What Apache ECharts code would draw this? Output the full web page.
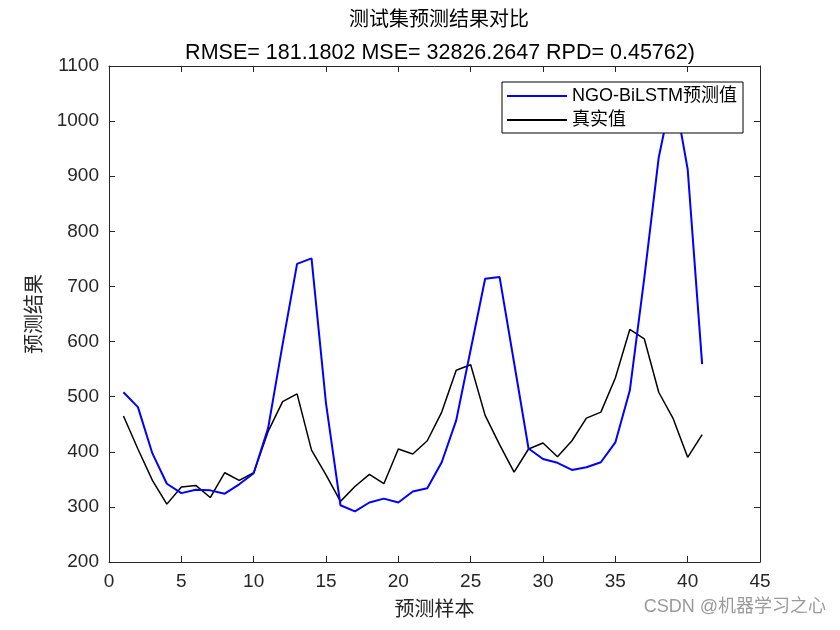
<!DOCTYPE html>
<html>
<head>
<meta charset="utf-8">
<script src="https://cdn.jsdelivr.net/npm/echarts@6/dist/echarts.min.js"></script>
<style>html,body{margin:0;padding:0;background:#fff}#c{width:840px;height:630px}</style>
</head>
<body>
<div id="c"></div>
<script>
const samples = [1,2,3,4,5,6,7,8,9,10,11,12,13,14,15,16,17,18,19,20,21,22,23,24,25,26,27,28,29,30,31,32,33,34,35,36,37,38,39,40,41];
const predicted = [508,481,397,342,325,331,330,324,341,361,443,595,741,751,488,303,292,308,315,308,328,334,381,457,585,714,717,562,406,387,380,367,372,381,417,511,715,934,1060,913,559];
const actual = [465,405,348,305,336,339,317,362,348,362,437,491,505,403,358,310,337,359,342,405,396,420,472,548,558,466,413,363,405,416,391,420,461,472,534,622,605,508,460,390,431];
const titleMain = '测试集预测结果对比';
const titleSub = 'RMSE= 181.1802 MSE= 32826.2647 RPD= 0.45762)';
const seriesNames = ['NGO-BiLSTM预测值', '真实值'];

const FONT = '"Liberation Sans", "Noto Sans CJK SC", sans-serif';
const chart = echarts.init(document.getElementById('c'));
const pairs = (ys) => samples.map((x, i) => [x, ys[i]]);
const axisCommon = {
  axisLine: {show: true, onZero: false, lineStyle: {color: '#262626', width: 1}},
  axisTick: {show: true, inside: true, length: 6, lineStyle: {color: '#262626'}},
  splitLine: {show: false}
};
const plain = (v) => String(v);
chart.setOption({
  animation: false,
  backgroundColor: '#fff',
  title: [
    {text: titleMain, left: 434, top: 5, textAlign: 'center',
     textStyle: {fontFamily: FONT, fontSize: 20, fontWeight: 'normal', color: '#000'}},
    {text: titleSub, left: 435, top: 37, textAlign: 'center',
     textStyle: {fontFamily: FONT, fontSize: 21.5, fontWeight: 'normal', color: '#000'}}
  ],
  grid: {left: 109, right: 80, top: 66, bottom: 68},
  legend: {
    orient: 'vertical', left: 502, top: 82,
    backgroundColor: '#fff', borderColor: '#000', borderWidth: 1, borderRadius: 0,
    padding: [3, 6, 2, 5], itemGap: 2,
    icon: 'rect', itemWidth: 60, itemHeight: 2,
    textStyle: {fontFamily: FONT, fontSize: 18, color: '#000', lineHeight: 22},
    data: seriesNames, z: 10
  },
  xAxis: [
    Object.assign({type: 'value', min: 0, max: 45, interval: 5, position: 'bottom',
      name: '预测样本', nameLocation: 'middle', nameGap: 38,
      nameTextStyle: {fontFamily: FONT, fontSize: 20, color: '#262626'},
      axisLabel: {fontFamily: FONT, fontSize: 19, color: '#262626', margin: 10, formatter: plain}}, axisCommon),
    Object.assign({type: 'value', min: 0, max: 45, interval: 5, position: 'top',
      axisLabel: {show: false}}, axisCommon)
  ],
  yAxis: [
    Object.assign({type: 'value', min: 200, max: 1100, interval: 100, position: 'left',
      name: '预测结果', nameLocation: 'middle', nameGap: 58, nameRotate: 90,
      nameTextStyle: {fontFamily: FONT, fontSize: 20, color: '#262626'},
      axisLabel: {fontFamily: FONT, fontSize: 19, color: '#262626', margin: 10, formatter: plain}}, axisCommon),
    Object.assign({type: 'value', min: 200, max: 1100, interval: 100, position: 'right',
      axisLabel: {show: false}}, axisCommon)
  ],
  series: [
    {name: seriesNames[0], type: 'line', data: pairs(predicted), symbol: 'none',
     lineStyle: {color: '#0000ff', width: 2}, itemStyle: {color: '#0000ff'}, z: 3},
    {name: seriesNames[1], type: 'line', data: pairs(actual), symbol: 'none',
     lineStyle: {color: '#000', width: 1.5}, itemStyle: {color: '#000'}, z: 2}
  ],
  graphic: [
    {type: 'text', right: 14, top: 598,
     style: {text: 'CSDN @机器学习之心', fontFamily: FONT, fontSize: 18, fill: '#9a9a9a'}}
  ]
});
</script>
</body>
</html>
